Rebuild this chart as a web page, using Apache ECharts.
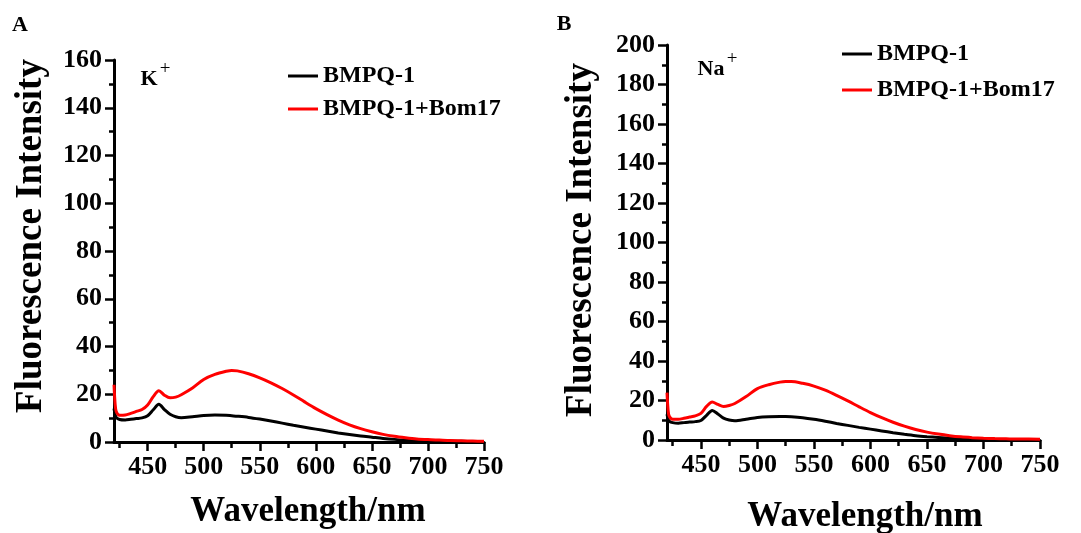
<!DOCTYPE html>
<html>
<head>
<meta charset="utf-8">
<script src="https://cdn.jsdelivr.net/npm/echarts@6/dist/echarts.min.js"></script>
<style>
html,body{margin:0;padding:0;background:#fff;}
#chart{width:1081px;height:533px;}
</style>
</head>
<body>
<div id="chart"></div>
<script>
// ---- data ----
var wavelengths = [420,421,422,425,430,435,440,445,450,455,460,465,470,475,480,490,500,510,520,525,530,540,550,560,570,580,590,600,610,620,630,640,650,660,670,680,690,700,710,720,730,740,750];
var kBMPQ = [14,11.5,10.3,9.4,9.2,9.5,9.8,10.1,11,13.5,15.8,13.6,11.6,10.6,10.2,10.6,11.1,11.3,11.2,11.0,10.8,10.3,9.6,8.8,7.9,7.0,6.2,5.4,4.6,3.8,3.1,2.5,2.0,1.5,1.1,0.8,0.6,0.5,0.4,0.3,0.3,0.2,0.2];
var kBMPQBom = [24,16,12.8,11.2,11.3,12,12.8,13.6,15.5,19,21.5,19.6,18.5,18.8,19.8,22.6,26.2,28.3,29.6,30,29.8,28.6,26.9,24.8,22.4,19.7,16.8,14,11.5,9.2,7.2,5.6,4.3,3.2,2.4,1.8,1.3,1.0,0.8,0.6,0.5,0.4,0.3];
var naBMPQ = [13,10.5,9.5,8.8,8.5,8.8,9.1,9.3,9.9,12.5,15,13.2,11.1,10.1,9.7,10.5,11.4,11.8,11.9,11.9,11.8,11.3,10.5,9.5,8.4,7.4,6.4,5.5,4.6,3.7,2.9,2.2,1.7,1.3,0.9,0.7,0.5,0.4,0.3,0.3,0.2,0.2,0.2];
var naBMPQBom = [24,15,12,10.5,10.5,11,11.6,12.2,13.5,17,19.2,18,17,17.5,18.5,22,26,28,29.3,29.6,29.6,28.7,27.3,25.2,22.6,19.8,16.8,13.9,11.3,9,7,5.3,4,3,2.2,1.6,1.2,0.9,0.7,0.6,0.5,0.5,0.4];
var xMajorTicks = [450,500,550,600,650,700,750];
var xMinorTicks = [425,475,525,575,625,675,725];
var seriesNames = ['BMPQ-1','BMPQ-1+Bom17'];

function pairs(xs, ys){ return xs.map(function(x,i){ return [x, ys[i]]; }); }

var FONT = "'Liberation Serif','Times New Roman',serif";
var chart = echarts.init(document.getElementById('chart'));

function xAxes(grid){
  return [{
    type:'value', gridIndex:grid, min:420, max:750, position:'bottom',
    axisLine:{show:true, onZero:false, lineStyle:{color:'#000', width:3}},
    axisTick:{show:true, customValues:xMajorTicks, length:9, lineStyle:{color:'#000', width:2.5}},
    axisLabel:{show:true, customValues:xMajorTicks, margin:12, color:'#000', fontFamily:FONT, fontWeight:'bold', fontSize:26},
    splitLine:{show:false}
  },{
    type:'value', gridIndex:grid, min:420, max:750, position:'bottom',
    axisLine:{show:false},
    axisTick:{show:true, customValues:xMinorTicks, length:6, lineStyle:{color:'#000', width:2.5}},
    axisLabel:{show:false},
    splitLine:{show:false}
  }];
}
function yAxis(grid, max){
  return {
    type:'value', gridIndex:grid, min:0, max:max, interval:20,
    axisLine:{show:true, lineStyle:{color:'#000', width:3}},
    axisTick:{show:true, length:9, lineStyle:{color:'#000', width:2.5}},
    minorTick:{show:true, splitNumber:2, length:5, lineStyle:{color:'#000', width:2.5}},
    axisLabel:{margin:12, color:'#000', fontFamily:FONT, fontWeight:'bold', fontSize:26},
    splitLine:{show:false}
  };
}
function lineSeries(name, color, xi, yi, data){
  return {name:name, type:'line', xAxisIndex:xi, yAxisIndex:yi, data:data,
    showSymbol:false, smooth:0.3, lineStyle:{color:color, width:3}, itemStyle:{color:color}, z:color==='#ff0000'?3:2};
}
var legendBase = {orient:'vertical', icon:'rect', itemWidth:30, itemHeight:3, itemGap:9,
  textStyle:{color:'#000', fontFamily:FONT, fontWeight:'bold', fontSize:24}};

var txt = function(x,y,text,size,weight,extra){
  var o = {type:'text', x:x, y:y, style:{text:text, fill:'#000', font: weight+' '+size+'px '+FONT, textAlign:'center', textVerticalAlign:'middle'}};
  if(extra){ for(var k in extra){ o[k]=extra[k]; } }
  return o;
};

chart.setOption({
  animation:false,
  backgroundColor:'#fff',
  grid:[
    {left:114, top:60, width:370, height:382},
    {left:667, top:45, width:373, height:395}
  ],
  xAxis: xAxes(0).concat(xAxes(1)),
  yAxis: [yAxis(0,160), yAxis(1,200)],
  legend:[
    Object.assign({}, legendBase, {left:283, top:59, data:seriesNames}),
    Object.assign({}, legendBase, {left:837, top:37, itemGap:12, data:seriesNames.map(function(n){return n;})})
  ],
  series:[
    lineSeries(seriesNames[0], '#000000', 0, 0, pairs(wavelengths, kBMPQ)),
    lineSeries(seriesNames[1], '#ff0000', 0, 0, pairs(wavelengths, kBMPQBom)),
    lineSeries(seriesNames[0], '#000000', 2, 1, pairs(wavelengths, naBMPQ)),
    lineSeries(seriesNames[1], '#ff0000', 2, 1, pairs(wavelengths, naBMPQBom))
  ],
  graphic:[
    txt(20, 25, 'A', 22, 'bold'),
    txt(564, 24, 'B', 22, 'bold'),
    txt(31, 236, 'Fluorescence Intensity', 37, 'bold', {rotation:Math.PI/2}),
    txt(581, 240, 'Fluorescence Intensity', 37, 'bold', {rotation:Math.PI/2}),
    txt(308, 512, 'Wavelength/nm', 35, 'bold'),
    txt(865, 517, 'Wavelength/nm', 35, 'bold'),
    txt(149, 79, 'K', 22, 'bold'),
    txt(165, 69, '+', 19, 'normal'),
    txt(711, 69, 'Na', 22, 'bold'),
    txt(732, 59, '+', 19, 'normal')
  ]
});
</script>
</body>
</html>
